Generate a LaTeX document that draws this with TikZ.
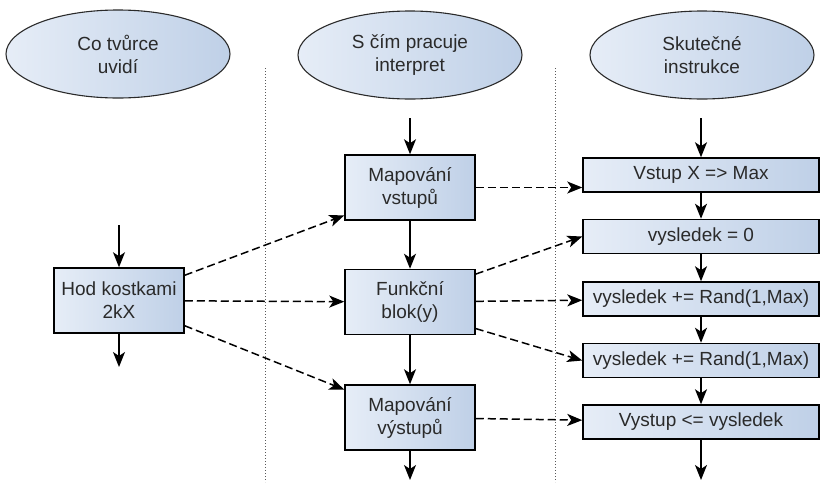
\documentclass[tikz,border=0pt]{standalone}
\usepackage{fontspec}
\setmainfont{Liberation Sans}
\usetikzlibrary{positioning,shapes.geometric,arrows.meta}

\definecolor{fillleft}{HTML}{E6EDF7}
\definecolor{fillright}{HTML}{BFD0E7}
\definecolor{inkgray}{HTML}{2A2A2A}

\tikzset{
  head/.style={ellipse, draw=inkgray, line width=1.1pt, left color=fillleft, right color=fillright,
    minimum width=224pt, minimum height=88pt, inner sep=0pt, align=center},
  block/.style={rectangle, draw=black, line width=1.5pt, left color=fillleft, right color=fillright,
    minimum width=130pt, minimum height=65pt, inner sep=0pt, align=center},
  instr/.style={block, minimum width=236pt, minimum height=34pt},
  flow/.style={-{Stealth[length=15pt,width=12pt,inset=4pt]}, line width=1.5pt},
  link/.style={flow, dash pattern=on 8pt off 4pt},
  divider/.style={line width=1pt, gray!70!black, dash pattern=on 1pt off 2pt}
}

\begin{document}
\begin{tikzpicture}[x=1pt, y=-1pt, font=\fontsize{19}{23}\selectfont, text=inkgray]
      \useasboundingbox (0,0) rectangle (822,482);
      % Define nodes
      \node[head]                          (creator) at (118,54) {Co tvůrce\\uvidí};
      \node[head]                          (interp)  at (410,55) {S čím pracuje\\interpret};
      \node[head]                          (real)    at (702,55) {Skutečné\\instrukce};

      \node[block]                         (roll)    at (119,300.5) {Hod kostkami\\2kX};
      \node[block]                         (mapin)   at (410,187.5) {Mapování\\vstupů};
      \node[block, below=48pt of mapin]    (func)    {Funkční\\blok(y)};
      \node[block, below=49pt of func]     (mapout)  {Mapování\\výstupů};

      \node[instr]                         (setmax)  at (701,175) {Vstup X => Max};
      \node[instr, below=26pt of setmax]   (reset)   {vysledek = 0};
      \node[instr, below=27pt of reset]    (addone)  {vysledek += Rand(1,Max)};
      \node[instr, below=26pt of addone]   (addtwo)  {vysledek += Rand(1,Max)};
      \node[instr, below=26pt of addtwo]   (store)   {Vystup <= vysledek};

      \coordinate (rollin)    at (119,225);
      \coordinate (rollout)   at (119,367);
      \coordinate (interpin)  at (410,118);
      \coordinate (interpout) at (410,480);
      \coordinate (realin)    at (701,118);
      \coordinate (realout)   at (701,480);
      \coordinate (cutA top)  at (265,68);
      \coordinate (cutA bot)  at (265,482);
      \coordinate (cutB top)  at (555,68);
      \coordinate (cutB bot)  at (555,482);

      % Column separators
      \draw[divider] (cutA top) -- (cutA bot);
      \draw[divider] (cutB top) -- (cutB bot);

      % Connect the nodes
      \draw[flow] (rollin) -- (roll);
      \draw[flow] (roll) -- (rollout);
      \foreach \a/\b in {interpin/mapin, mapin/func, func/mapout, mapout/interpout}
        \draw[flow] (\a) -- (\b);
      \foreach \a/\b in {realin/setmax, setmax/reset, reset/addone, addone/addtwo, addtwo/store, store/realout}
        \draw[flow] (\a) -- (\b);

      % Mappings
      \draw[link] (roll.21) -- (mapin.203);
      \draw[link] (roll) -- (func);
      \draw[link] (roll.-21) -- (mapout.157);
      \draw[link] (mapin.east) -- (mapin.east -| setmax.west);
      \draw[link] (func.23) -- (reset.west);
      \draw[link] (func) -- (addone);
      \draw[link] (func.-22) -- (addtwo.west);
      \draw[link] (mapout) -- (store);

\end{tikzpicture}
\end{document}
